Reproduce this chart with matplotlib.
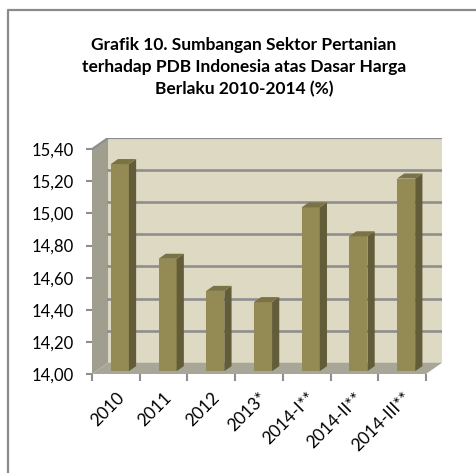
import numpy as np
import matplotlib
matplotlib.use("Agg")
import matplotlib.pyplot as plt
from matplotlib.patches import Polygon
from matplotlib.lines import Line2D

plt.rcParams['font.family'] = ['Lato', 'DejaVu Sans']

categories = ['2010', '2011', '2012', '2013*', '2014-I**', '2014-II**', '2014-III**']
values = [15.29, 14.70, 14.50, 14.43, 15.02, 14.84, 15.20]
yticks = [14.0, 14.2, 14.4, 14.6, 14.8, 15.0, 15.2, 15.4]
title = 'Grafik 10. Sumbangan Sektor Pertanian\nterhadap PDB Indonesia atas Dasar Harga\nBerlaku 2010-2014 (%)'

# 3d look (depth offsets in data units)
ymin, ymax = 14.0, 15.4
dx, dy = 0.336, 0.07
f0, f1 = 0.25, 0.70     # bar front / back depth fraction
bw = 0.38

wall_c = '#DDD9C3'
side_wall_c = '#A09F8F'
floor_c = '#A7A697'
grid_c = '#8E8E8E'
bar_front = '#948A54'
bar_side = '#635C38'
bar_top = '#7B7346'

fig = plt.figure(figsize=(4.77, 4.73), dpi=100)
ax = fig.add_axes([92/477, 1 - 374/473, 350/477, 236/473])
n = len(categories)
x0, x1 = -0.5, n - 0.5
ax.set_xlim(x0, x1 + dx)
ax.set_ylim(ymin, ymax + dy)
for s in ax.spines.values():
    s.set_visible(False)

# walls and floor
ax.add_patch(Polygon([(x0 + dx, ymin + dy), (x1 + dx, ymin + dy), (x1 + dx, ymax + dy), (x0 + dx, ymax + dy)],
                     closed=True, facecolor=wall_c, edgecolor='none', zorder=0))
ax.add_patch(Polygon([(x0, ymin), (x0 + dx, ymin + dy), (x0 + dx, ymax + dy), (x0, ymax)],
                     closed=True, facecolor=side_wall_c, edgecolor='none', zorder=0))
ax.add_patch(Polygon([(x0, ymin), (x1, ymin), (x1 + dx, ymin + dy), (x0 + dx, ymin + dy)],
                     closed=True, facecolor=floor_c, edgecolor='none', zorder=1))
# top edge of walls
ax.plot([x0, x0 + dx, x1 + dx], [ymax, ymax + dy, ymax + dy], color=grid_c, lw=1.6, zorder=1,
        solid_capstyle='butt')
for t in yticks[1:-1]:
    ax.plot([x0 + dx, x1 + dx], [t + dy, t + dy], color=grid_c, lw=1.9, zorder=1)

# bars
xs = np.arange(n)
left = xs - bw / 2 + f0 * dx
ax.bar(left, np.array(values) - ymin, width=bw, bottom=ymin + f0 * dy, align='edge',
       color=bar_front, edgecolor='none', zorder=3)
ddx, ddy = (f1 - f0) * dx, (f1 - f0) * dy
for l, v in zip(left, values):
    r = l + bw
    top = v + f0 * dy
    bot = ymin + f0 * dy
    ax.add_patch(Polygon([(r, bot), (r + ddx, bot + ddy), (r + ddx, top + ddy), (r, top)],
                         closed=True, facecolor=bar_side, edgecolor='none', zorder=3))
    ax.add_patch(Polygon([(l, top), (r, top), (r + ddx, top + ddy), (l + ddx, top + ddy)],
                         closed=True, facecolor=bar_top, edgecolor='none', zorder=3))

# ticks
ax.set_yticks(yticks)
ax.set_yticklabels([f'{t:.2f}'.replace('.', ',') for t in yticks], fontsize=12)
ax.tick_params(axis='y', length=4, width=1.5, color=grid_c, pad=9)
ax.set_xticks(xs)
ax.set_xticklabels(categories, rotation=45, ha='right', va='top', rotation_mode='anchor', fontsize=12.5)
ax.set_xticks(np.arange(n + 1) - 0.5, minor=True)
ax.tick_params(axis='x', which='major', length=0, pad=11)
ax.tick_params(axis='x', which='minor', length=5, width=1.5, color=grid_c)

fig.text(244/477, 1 - 37/473, title, ha='center', va='top', fontsize=12.5, fontweight='bold',
         linespacing=1.45)

# outer frame (left and top visible)
fig.add_artist(Line2D([8/477, 8/477, 1.0], [0.0, 1 - 10/473, 1 - 10/473], color='#8A8A8A', lw=1.6,
                      transform=fig.transFigure))

fig.savefig('out.png', dpi=100)
